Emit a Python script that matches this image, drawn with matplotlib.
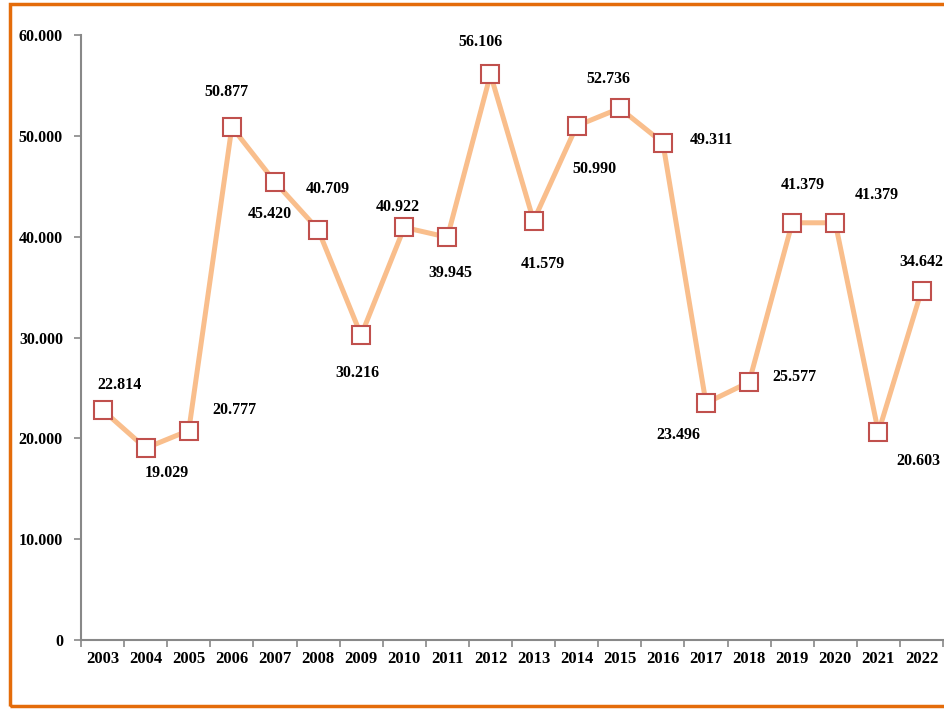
import matplotlib.pyplot as plt
from matplotlib.patches import Rectangle

years = [str(y) for y in range(2003, 2023)]
values = [22814, 19029, 20777, 50877, 45420, 40709, 30216, 40922, 39945, 56106,
          41579, 50990, 52736, 49311, 23496, 25577, 41379, 41379, 20603, 34642]
labels = ["22.814", "19.029", "20.777", "50.877", "45.420", "40.709", "30.216",
          "40.922", "39.945", "56.106", "41.579", "50.990", "52.736", "49.311",
          "23.496", "25.577", "41.379", "41.379", "20.603", "34.642"]

# label offsets in points (dx, dy) relative to each point
offsets = [(12, 18), (15, -18), (33, 15), (-4, 25), (-4, -23), (7, 29), (-3, -27),
           (-5, 15), (2, -26), (-7, 23), (7, -31), (13, -31), (-8, 21), (35, 2),
           (-20, -23), (33, 4), (8, 27), (30, 20), (29, -21), (0, 21)]

plt.rcParams['font.family'] = ['Liberation Serif', 'DejaVu Serif']
plt.rcParams['font.weight'] = 'bold'

fig = plt.figure(figsize=(9.44, 7.09), dpi=100)
ax = fig.add_axes([0.0858, 0.0973, 0.9132, 0.8533])

x = list(range(len(years)))
ax.plot(x, values, color='#F9BE8C', lw=3.6, zorder=2)
ax.plot(x, values, ls='none', marker='s', ms=13.5, mfc='white', mec='#C0504D',
        mew=1.5, zorder=3)

for xi, v, lab, (dx, dy) in zip(x, values, labels, offsets):
    ax.annotate(lab, (xi, v), xytext=(dx, dy), textcoords='offset points',
                ha='center', va='center', fontsize=11.5, fontweight='bold',
                annotation_clip=False)

ax.set_xlim(-0.5, len(years) - 0.5)
ax.set_ylim(0, 60000)
ax.set_yticks(range(0, 60001, 10000))
ax.set_yticklabels(['0'] + ['%d.000' % (t // 1000) for t in range(10000, 60001, 10000)])
ax.set_xticks(x)
ax.set_xticklabels(years)
ax.set_xticks([i - 0.5 for i in range(len(years) + 1)], minor=True)
ax.tick_params(axis='x', which='major', length=0, pad=8, labelsize=12)
ax.tick_params(axis='x', which='minor', length=5, color='#888888', width=1.2)
ax.tick_params(axis='y', length=5, color='#888888', width=1.2, pad=8, labelsize=11.5)
for lab in ax.get_xticklabels() + ax.get_yticklabels():
    lab.set_fontweight('bold')

for s in ['top', 'right']:
    ax.spines[s].set_visible(False)
for s in ['left', 'bottom']:
    ax.spines[s].set_color('#888888')
    ax.spines[s].set_linewidth(1.5)

# orange outer border (right edge runs off the image)
fig.patches.append(Rectangle((0.0105, 0.004), 1.2, 0.991, transform=fig.transFigure,
                             fill=False, edgecolor='#E46C0A', lw=2.5, zorder=0))

fig.savefig('out.png', dpi=100)
